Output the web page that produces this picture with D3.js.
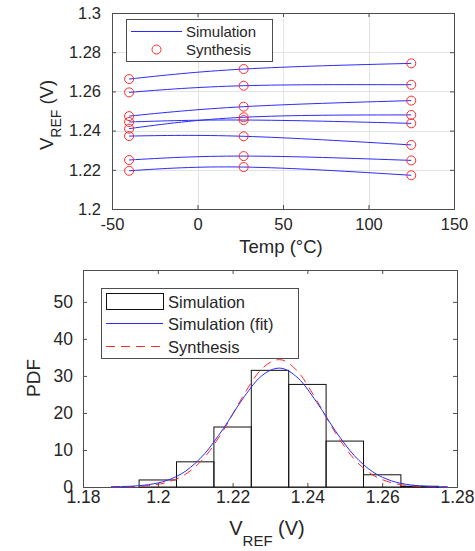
<!DOCTYPE html>
<html lang="en">
  <head>
    <meta charset="UTF-8">
    <title>VREF temperature and PDF</title>
    <style>
      html,body{
        background-color: #fff;
        margin: 0;
        padding: 0;
      }
      svg text{
        font-family: "Liberation Sans", Arial, sans-serif;
        fill: #262626;
      }
    </style>
  </head>
  <body>
    <div id="chart"></div>
    <script src="https://d3js.org/d3.v7.min.js"></script>
    <script>
      // ---- top plot data (VREF vs temperature) ----
      var temps = [-40, 27, 125];
      var simVref = [
        [1.2663, 1.2714, 1.2743],
        [1.2595, 1.2629, 1.2634],
        [1.2474, 1.2522, 1.2553],
        [1.2444, 1.2454, 1.2437],
        [1.2410, 1.2468, 1.2480],
        [1.2372, 1.2371, 1.2327],
        [1.2250, 1.2270, 1.2248],
        [1.2195, 1.2214, 1.2172]
      ];
      var synthVref = [
        [1.2663, 1.2714, 1.2743],
        [1.2595, 1.2629, 1.2634],
        [1.2474, 1.2522, 1.2553],
        [1.2444, 1.2454, 1.2437],
        [1.2410, 1.2468, 1.2480],
        [1.2372, 1.2371, 1.2327],
        [1.2250, 1.2270, 1.2248],
        [1.2195, 1.2214, 1.2172]
      ];
      var tempTicks = [-50, 0, 50, 100, 150];
      var vrefTicks = [1.2, 1.22, 1.24, 1.26, 1.28, 1.3];

      // ---- bottom plot data (histogram + fits) ----
      var binEdges = [1.195, 1.205, 1.215, 1.225, 1.235, 1.245, 1.255, 1.265, 1.275];
      var pdfBins = [1.9, 6.8, 16.2, 31.5, 27.7, 12.4, 3.3, 0.2];
      var fitV = [1.1875, 1.1925, 1.1975, 1.2025, 1.2075, 1.2125, 1.2175, 1.2225, 1.2275, 1.2325,
                  1.2375, 1.2425, 1.2475, 1.2525, 1.2575, 1.2625, 1.2675, 1.2725, 1.2775];
      var fitSim = [0.05, 0.19, 0.63, 1.79, 4.34, 8.97, 15.74, 23.49, 29.78, 32.1,
                    29.40, 22.88, 15.14, 8.52, 4.07, 1.66, 0.57, 0.17, 0.04];
      var fitSynth = [0.02, 0.10, 0.38, 1.27, 3.50, 8.01, 15.24, 24.07, 31.58, 34.4,
                      31.11, 23.37, 14.59, 7.55, 3.25, 1.16, 0.34, 0.08, 0.02];
      var histXTicks = [1.18, 1.2, 1.22, 1.24, 1.26, 1.28];
      var pdfTicks = [0, 10, 20, 30, 40, 50];

      var W = 475, H = 551;
      var svg = d3.select("#chart").append("svg")
        .attr("width", W).attr("height", H);

      var axisColor = "#4d4d4d";
      var blue = "#2b2bff", red = "#ff2a2a";
      // plain hyphen for negatives, like the original
      var fmtNum = function(d){ return String(+d.toFixed(2)); };

      function styleTicks(g, size){
        g.selectAll(".domain").attr("stroke", axisColor);
        g.selectAll(".tick line").attr("stroke", axisColor);
        g.selectAll(".tick text").attr("font-size", size).attr("fill", "#262626")
          .attr("font-family", "Liberation Sans, Arial, sans-serif");
      }

      // ================= TOP PLOT =================
      var tx = d3.scaleLinear().domain([-50, 150]).range([112, 454]);
      var ty = d3.scaleLinear().domain([1.2, 1.3]).range([209, 13]);
      var gTop = svg.append("g");

      // grid
      gTop.selectAll(".gx").data(tempTicks.slice(1, -1)).enter().append("line")
        .attr("x1", function(d){ return Math.round(tx(d)) + 0.5; })
        .attr("x2", function(d){ return Math.round(tx(d)) + 0.5; })
        .attr("y1", ty(1.2)).attr("y2", ty(1.3))
        .attr("stroke", "#e3e3e3");
      gTop.selectAll(".gy").data(vrefTicks.slice(1, -1)).enter().append("line")
        .attr("y1", function(d){ return Math.round(ty(d)) + 0.5; })
        .attr("y2", function(d){ return Math.round(ty(d)) + 0.5; })
        .attr("x1", tx(-50)).attr("x2", tx(150))
        .attr("stroke", "#e3e3e3");

      // axes, ticks inside on all four sides
      var ta = gTop.append("g");
      ta.append("g").attr("transform", "translate(0," + ty(1.2) + ")")
        .call(d3.axisBottom(tx).tickValues(tempTicks).tickSize(-4).tickPadding(9).tickFormat(fmtNum));
      ta.append("g").attr("transform", "translate(" + tx(-50) + ",0)")
        .call(d3.axisLeft(ty).tickValues(vrefTicks).tickSize(-4).tickPadding(11).tickFormat(fmtNum));
      ta.append("g").attr("transform", "translate(0," + ty(1.3) + ")")
        .call(d3.axisTop(tx).tickValues(tempTicks).tickSize(-4).tickFormat(""));
      ta.append("g").attr("transform", "translate(" + tx(150) + ",0)")
        .call(d3.axisRight(ty).tickValues(vrefTicks).tickSize(-4).tickFormat(""));
      styleTicks(ta, 16.5);

      // simulation curves
      var tline = d3.line()
        .x(function(d, i){ return tx(temps[i]); })
        .y(function(d){ return ty(d); })
        .curve(d3.curveNatural);
      gTop.selectAll(".sim").data(simVref).enter().append("path")
        .attr("d", tline)
        .attr("fill", "none").attr("stroke", blue).attr("stroke-width", 1);

      // synthesis circles
      synthVref.forEach(function(row){
        gTop.selectAll(null).data(row).enter().append("circle")
          .attr("cx", function(d, i){ return tx(temps[i]); })
          .attr("cy", function(d){ return ty(d); })
          .attr("r", 4.5)
          .attr("fill", "none").attr("stroke", red).attr("stroke-width", 1);
      });

      // legend
      var lg = gTop.append("g");
      lg.append("rect").attr("x", 126.5).attr("y", 19.5).attr("width", 146).attr("height", 42)
        .attr("fill", "#fff").attr("stroke", axisColor);
      lg.append("line").attr("x1", 131).attr("x2", 182).attr("y1", 31.5).attr("y2", 31.5)
        .attr("stroke", blue);
      lg.append("text").attr("x", 186).attr("y", 37).attr("font-size", 15).text("Simulation");
      lg.append("circle").attr("cx", 156.5).attr("cy", 49.5).attr("r", 4.5)
        .attr("fill", "none").attr("stroke", red);
      lg.append("text").attr("x", 186).attr("y", 55).attr("font-size", 15).text("Synthesis");

      // labels
      gTop.append("text").attr("x", 281).attr("y", 253).attr("text-anchor", "middle")
        .attr("font-size", 18.5).text("Temp (°C)");
      var yl = gTop.append("text").attr("transform", "translate(53,115) rotate(-90)")
        .attr("text-anchor", "middle").attr("font-size", 18.5);
      yl.append("tspan").text("V");
      yl.append("tspan").attr("font-size", 14).attr("dy", 8).text("REF");
      yl.append("tspan").attr("dy", -8).text(" (V)");

      // ================= BOTTOM PLOT =================
      var bx = d3.scaleLinear().domain([1.18, 1.28]).range([83, 457]);
      var by = d3.scaleLinear().domain([0, 58.6]).range([487, 270]);
      var gBot = svg.append("g");

      var ba = gBot.append("g");
      ba.append("g").attr("transform", "translate(0," + by(0) + ")")
        .call(d3.axisBottom(bx).tickValues(histXTicks).tickSize(-4).tickPadding(4).tickFormat(fmtNum));
      ba.append("g").attr("transform", "translate(" + bx(1.18) + ",0)")
        .call(d3.axisLeft(by).tickValues(pdfTicks).tickSize(-4).tickPadding(10).tickFormat(fmtNum));
      ba.append("g").attr("transform", "translate(0," + by(58.6) + ")")
        .call(d3.axisTop(bx).tickValues(histXTicks).tickSize(-4).tickFormat(""));
      ba.append("g").attr("transform", "translate(" + bx(1.28) + ",0)")
        .call(d3.axisRight(by).tickValues(pdfTicks).tickSize(-4).tickFormat(""));
      styleTicks(ba, 17.5);

      // histogram
      gBot.selectAll(".bar").data(pdfBins).enter().append("rect")
        .attr("x", function(d, i){ return bx(binEdges[i]); })
        .attr("y", function(d){ return by(d); })
        .attr("width", function(d, i){ return bx(binEdges[i + 1]) - bx(binEdges[i]); })
        .attr("height", function(d){ return by(0) - by(d); })
        .attr("fill", "none").attr("stroke", "#111").attr("stroke-width", 1);

      var fline = d3.line()
        .x(function(d, i){ return bx(fitV[i]); })
        .y(function(d){ return by(d); })
        .curve(d3.curveMonotoneX);
      gBot.append("path").attr("d", fline(fitSynth))
        .attr("fill", "none").attr("stroke", red).attr("stroke-width", 1)
        .attr("stroke-dasharray", "9,6");
      gBot.append("path").attr("d", fline(fitSim))
        .attr("fill", "none").attr("stroke", blue).attr("stroke-width", 1);

      // legend
      var lg2 = gBot.append("g");
      lg2.append("rect").attr("x", 101.5).attr("y", 288.5).attr("width", 197).attr("height", 70)
        .attr("fill", "#fff").attr("stroke", axisColor);
      lg2.append("rect").attr("x", 106.5).attr("y", 293.5).attr("width", 57).attr("height", 16)
        .attr("fill", "none").attr("stroke", "#111");
      lg2.append("text").attr("x", 168).attr("y", 307.5).attr("font-size", 16.5).text("Simulation");
      lg2.append("line").attr("x1", 106).attr("x2", 163).attr("y1", 323.5).attr("y2", 323.5)
        .attr("stroke", blue);
      lg2.append("text").attr("x", 168).attr("y", 329.5).attr("font-size", 16.5).text("Simulation (fit)");
      lg2.append("line").attr("x1", 106).attr("x2", 163).attr("y1", 346.5).attr("y2", 346.5)
        .attr("stroke", red).attr("stroke-dasharray", "9,6");
      lg2.append("text").attr("x", 168).attr("y", 352.5).attr("font-size", 16.5).text("Synthesis");

      // labels
      gBot.append("text").attr("transform", "translate(40,378) rotate(-90)")
        .attr("text-anchor", "middle").attr("font-size", 19).text("PDF");
      var xl = gBot.append("text").attr("x", 267).attr("y", 535).attr("text-anchor", "middle")
        .attr("font-size", 20);
      xl.append("tspan").text("V");
      xl.append("tspan").attr("font-size", 15).attr("dy", 11).text("REF");
      xl.append("tspan").attr("dy", -11).text(" (V)");
    </script>
  </body>
</html>
